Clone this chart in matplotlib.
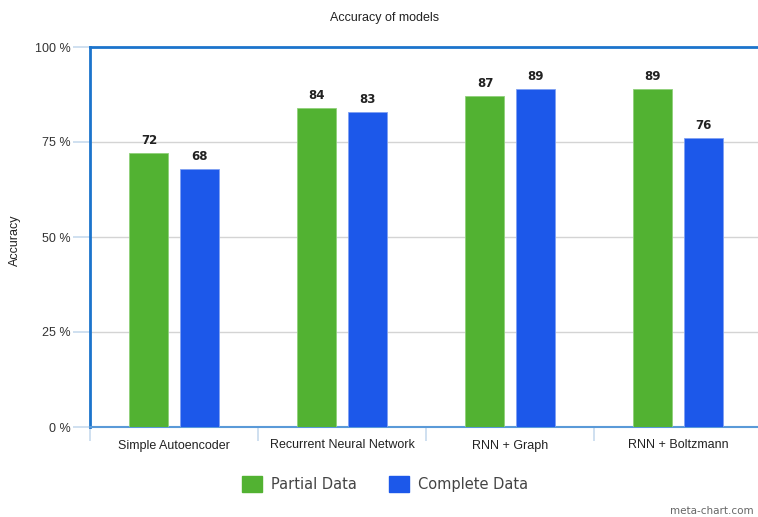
import numpy as np
import matplotlib
matplotlib.use("Agg")
import matplotlib.pyplot as plt

categories = ["Simple Autoencoder", "Recurrent Neural Network", "RNN + Graph", "RNN + Boltzmann"]
partial = [72, 84, 87, 89]
complete = [68, 83, 89, 76]
yticks = [0, 25, 50, 75, 100]

green = "#52B232"
blue = "#1C58EA"
border = "#1C74CC"
tickblue = "#C7DAEE"

plt.rcParams["font.family"] = ["Liberation Sans", "DejaVu Sans"]

fig = plt.figure(figsize=(7.58, 5.17), dpi=100)
# plot area in pixels: x 90..762, y 47..427
ax = fig.add_axes([90 / 758, 1 - 427 / 517, 672 / 758, 380 / 517])

x = np.arange(len(categories))
w = 0.232
off = 0.149
ax.bar(x - off, partial, w, color=green, edgecolor="#8fd07a", linewidth=0.6, zorder=3)
ax.bar(x + off, complete, w, color=blue, edgecolor="#7fa0f2", linewidth=0.6, zorder=3)

for xi, v in zip(x - off, partial):
    ax.text(xi, v + 1.6, str(v), ha="center", va="bottom", fontsize=8.5, fontweight="bold",
            color="#222222", family="DejaVu Sans")
for xi, v in zip(x + off, complete):
    ax.text(xi, v + 1.6, str(v), ha="center", va="bottom", fontsize=8.5, fontweight="bold",
            color="#222222", family="DejaVu Sans")

ax.set_xlim(-0.5, len(categories) - 0.5)
ax.set_ylim(0, 100)
ax.set_yticks(yticks)
ax.set_yticklabels([f"{t} %" for t in yticks], fontsize=9, color="#333333")
ax.tick_params(axis="y", length=12, color=tickblue, width=1.2, pad=2)

ax.set_xticks(x)
ax.set_xticklabels(categories, fontsize=9, color="#222222")
ax.tick_params(axis="x", which="major", length=0, pad=9)
ax.set_xticks(np.arange(len(categories)) - 0.5, minor=True)
ax.tick_params(axis="x", which="minor", length=10, color=tickblue, width=1.2)

for t in [25, 50, 75]:
    ax.axhline(t, color="#d4d4d4", linewidth=1, zorder=1)

ax.spines["top"].set_color(border)
ax.spines["top"].set_linewidth(2)
ax.spines["left"].set_color(border)
ax.spines["left"].set_linewidth(2)
ax.spines["bottom"].set_color("#5a9ad8")
ax.spines["bottom"].set_linewidth(1.5)
ax.spines["right"].set_visible(False)

fig.text(15 / 758, 1 - 240 / 517, "Accuracy", rotation=90, ha="center", va="center", fontsize=9, color="#222222")
fig.text(385 / 758, 1 - 18 / 517, "Accuracy of models", ha="center", va="center", fontsize=9, color="#222222")

# legend
handles = [plt.Rectangle((0, 0), 1, 1, color=green), plt.Rectangle((0, 0), 1, 1, color=blue)]
fig.legend(handles, ["Partial Data", "Complete Data"], loc="center", bbox_to_anchor=(385 / 758, 1 - 484 / 517),
           ncol=2, frameon=False, prop={"family": "DejaVu Sans", "size": 10.5},
           handlelength=1.4, handleheight=1.4, columnspacing=2.2, handletextpad=0.6, labelcolor="#444444")

fig.text(754 / 758, 1 - 511 / 517, "meta-chart.com", ha="right", va="center", fontsize=7.5, color="#666666",
         family="DejaVu Sans")

fig.savefig("out.png", dpi=100)
